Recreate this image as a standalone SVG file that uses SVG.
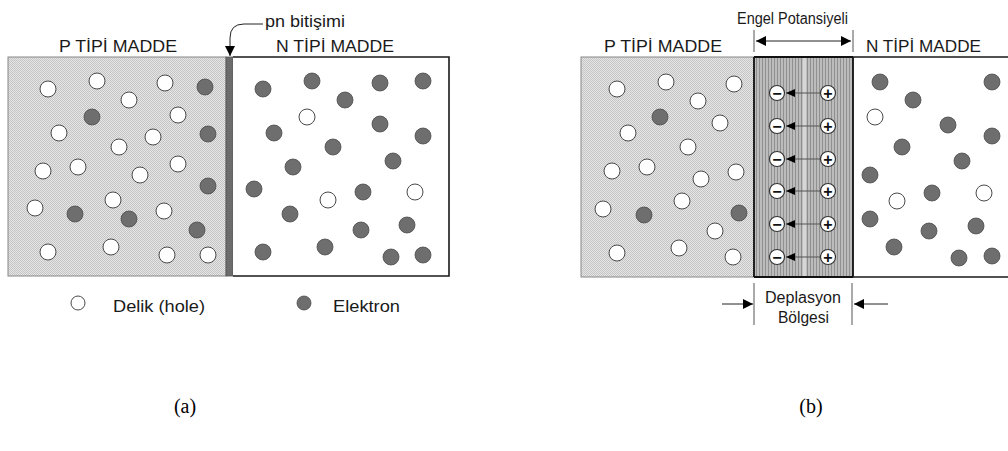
<svg xmlns="http://www.w3.org/2000/svg" width="1008" height="451" viewBox="0 0 1008 451">
<defs>
<style>
.t{font-family:"Liberation Sans",Arial,sans-serif;font-size:17px;fill:#1a1a1a}
.m{font-family:"Liberation Sans",Arial,sans-serif;font-size:16px;fill:#1a1a1a}
.s{font-family:"Liberation Serif","Times New Roman",serif;font-size:20px;fill:#000}
.h{fill:#fff;stroke:#4a4a4a;stroke-width:1}
.e{fill:#6e6e6e;stroke:#4a4a4a;stroke-width:0.8}
.q{fill:#fff;stroke:#333;stroke-width:1.2}
.sg{font-family:"Liberation Sans",Arial,sans-serif;font-size:16px;font-weight:bold;fill:#111;text-anchor:middle}
.ln{stroke:#222;stroke-width:1;fill:none}
.fl{stroke:#555;stroke-width:1;fill:none}
</style>
<pattern id="stip" width="2" height="2" patternUnits="userSpaceOnUse">
<rect width="2" height="2" fill="#e6e6e6"/>
<rect width="1" height="1" fill="#c4c4c4"/>
<rect x="1" y="1" width="1" height="1" fill="#c4c4c4"/>
</pattern>
<pattern id="vs" width="3" height="3" patternUnits="userSpaceOnUse">
<rect width="3" height="3" fill="#bcbcbc"/>
<rect width="1" height="3" fill="#909090"/>
</pattern>
<marker id="ah" viewBox="0 0 10 10" refX="10" refY="5" markerWidth="11" markerHeight="10" markerUnits="userSpaceOnUse" orient="auto">
<path d="M0,0 L10,5 L0,10 z" fill="#000"/>
</marker>
<marker id="ahb" viewBox="0 0 10 10" refX="0" refY="5" markerWidth="11" markerHeight="10" markerUnits="userSpaceOnUse" orient="auto">
<path d="M10,0 L0,5 L10,10 z" fill="#000"/>
</marker>
</defs>
<rect width="1008" height="451" fill="#fff"/>

<!-- Panel (a) P region -->
<g id="a-p-region">
<rect x="8" y="57" width="218" height="219" fill="url(#stip)" stroke="#888" stroke-width="1"/>
<text class="t" x="59" y="52" textLength="118" lengthAdjust="spacingAndGlyphs">P TİPİ MADDE</text>
<circle class="h" cx="48" cy="89" r="8"/><circle class="h" cx="97" cy="81" r="8"/><circle class="h" cx="165" cy="83" r="8"/><circle class="e" cx="205" cy="87" r="8"/>
<circle class="h" cx="129" cy="100" r="8"/><circle class="e" cx="92" cy="117" r="8"/><circle class="h" cx="178" cy="115" r="8"/><circle class="h" cx="59" cy="133" r="8"/>
<circle class="h" cx="153" cy="137" r="8"/><circle class="e" cx="208" cy="134" r="8"/><circle class="h" cx="119" cy="147" r="8"/><circle class="h" cx="43" cy="171" r="8"/>
<circle class="h" cx="78" cy="167" r="8"/><circle class="h" cx="140" cy="175" r="8"/><circle class="h" cx="178" cy="164" r="8"/><circle class="e" cx="208" cy="186" r="8"/>
<circle class="h" cx="113" cy="200" r="8"/><circle class="h" cx="35" cy="208" r="8"/><circle class="e" cx="75" cy="214" r="8"/><circle class="e" cx="129" cy="219" r="8"/>
<circle class="h" cx="164" cy="211" r="8"/><circle class="e" cx="197" cy="230" r="8"/><circle class="h" cx="48" cy="252" r="8"/><circle class="h" cx="111" cy="247" r="8"/>
<circle class="h" cx="167" cy="255" r="8"/><circle class="h" cx="208" cy="255" r="8"/>
</g>

<!-- Junction -->
<g id="a-junction">
<rect x="226" y="57" width="7" height="219" fill="#6c6c6c" stroke="#555" stroke-width="0.8"/>
<text class="t" x="265" y="27" textLength="80" lengthAdjust="spacingAndGlyphs">pn bitişimi</text>
</g>

<!-- Panel (a) N region -->
<g id="a-n-region">
<path d="M233,57 H449 V276 H233" fill="#fff" stroke="#1a1a1a" stroke-width="1.6"/>
<text class="t" x="276" y="52" textLength="118" lengthAdjust="spacingAndGlyphs">N TİPİ MADDE</text>
<circle class="e" cx="263" cy="89" r="8"/><circle class="e" cx="312" cy="81" r="8"/><circle class="e" cx="380" cy="83" r="8"/><circle class="e" cx="423" cy="81" r="8"/>
<circle class="e" cx="345" cy="100" r="8"/><circle class="h" cx="307" cy="117" r="8"/><circle class="e" cx="274" cy="133" r="8"/><circle class="e" cx="380" cy="124" r="8"/>
<circle class="e" cx="423" cy="136" r="8"/><circle class="e" cx="333" cy="147" r="8"/><circle class="e" cx="293" cy="167" r="8"/><circle class="e" cx="393" cy="161" r="8"/>
<circle class="e" cx="254" cy="189" r="8"/><circle class="h" cx="328" cy="200" r="8"/><circle class="e" cx="363" cy="192" r="8"/><circle class="h" cx="415" cy="192" r="8"/>
<circle class="e" cx="290" cy="214" r="8"/><circle class="e" cx="361" cy="230" r="8"/><circle class="e" cx="407" cy="225" r="8"/><circle class="e" cx="263" cy="252" r="8"/>
<circle class="e" cx="325" cy="247" r="8"/><circle class="e" cx="391" cy="257" r="8"/><circle class="e" cx="423" cy="255" r="8"/>
</g>

<!-- Legend -->
<g id="legend">
<circle class="h" cx="78" cy="303" r="7"/>
<text class="t" x="113" y="312" textLength="92" lengthAdjust="spacingAndGlyphs">Delik (hole)</text>
<circle class="e" cx="304" cy="303" r="7"/>
<text class="t" x="333" y="312" textLength="67" lengthAdjust="spacingAndGlyphs">Elektron</text>
</g>

<!-- Panel (b) P region -->
<g id="b-p-region">
<rect x="581" y="57" width="173" height="220" fill="url(#stip)" stroke="#888" stroke-width="1"/>
<text class="t" x="604" y="52" textLength="118" lengthAdjust="spacingAndGlyphs">P TİPİ MADDE</text>
<circle class="h" cx="617" cy="89" r="8"/><circle class="h" cx="666" cy="82" r="8"/><circle class="h" cx="734" cy="84" r="8"/><circle class="h" cx="698" cy="101" r="8"/>
<circle class="e" cx="660" cy="117" r="8"/><circle class="h" cx="720" cy="123" r="8"/><circle class="h" cx="628" cy="133" r="8"/><circle class="h" cx="688" cy="147" r="8"/>
<circle class="h" cx="612" cy="171" r="8"/><circle class="h" cx="647" cy="167" r="8"/><circle class="h" cx="701" cy="179" r="8"/><circle class="h" cx="736" cy="172" r="8"/>
<circle class="h" cx="682" cy="201" r="8"/><circle class="h" cx="603" cy="209" r="8"/><circle class="e" cx="644" cy="215" r="8"/><circle class="e" cx="739" cy="213" r="8"/>
<circle class="h" cx="715" cy="231" r="8"/><circle class="h" cx="617" cy="253" r="8"/><circle class="h" cx="679" cy="248" r="8"/><circle class="h" cx="733" cy="257" r="8"/>
</g>

<!-- Depletion region -->
<g id="b-depletion">
<rect x="754" y="57" width="99" height="220" fill="url(#vs)"/>
<rect x="802" y="57" width="5" height="220" fill="#d6d6d6" stroke="#888" stroke-width="0.6"/>
<path d="M754,57 V277 M853,57 V277 M754,277 H853 M754,57 H853" stroke="#111" stroke-width="1.8" fill="none"/>
<g id="charges">
<circle class="q" cx="777" cy="93" r="7.5"/><circle class="q" cx="828" cy="93" r="7.5"/>
<circle class="q" cx="777" cy="126" r="7.5"/><circle class="q" cx="828" cy="126" r="7.5"/>
<circle class="q" cx="777" cy="159" r="7.5"/><circle class="q" cx="828" cy="159" r="7.5"/>
<circle class="q" cx="777" cy="191" r="7.5"/><circle class="q" cx="828" cy="191" r="7.5"/>
<circle class="q" cx="777" cy="224" r="7.5"/><circle class="q" cx="828" cy="224" r="7.5"/>
<circle class="q" cx="777" cy="257" r="7.5"/><circle class="q" cx="828" cy="257" r="7.5"/>
<text class="sg" x="777" y="98.5">−</text><text class="sg" x="828" y="98.5">+</text>
<text class="sg" x="777" y="131.5">−</text><text class="sg" x="828" y="131.5">+</text>
<text class="sg" x="777" y="164.5">−</text><text class="sg" x="828" y="164.5">+</text>
<text class="sg" x="777" y="196.5">−</text><text class="sg" x="828" y="196.5">+</text>
<text class="sg" x="777" y="229.5">−</text><text class="sg" x="828" y="229.5">+</text>
<text class="sg" x="777" y="262.5">−</text><text class="sg" x="828" y="262.5">+</text>
</g>
<text class="m" x="737" y="24" textLength="111" lengthAdjust="spacingAndGlyphs">Engel Potansiyeli</text>
<text class="m" x="765" y="303" textLength="76" lengthAdjust="spacingAndGlyphs">Deplasyon</text>
<text class="m" x="778" y="323" textLength="51" lengthAdjust="spacingAndGlyphs">Bölgesi</text>
</g>

<!-- Panel (b) N region -->
<g id="b-n-region">
<path d="M853,57 H1008 M853,277 H1008" stroke="#1a1a1a" stroke-width="1.6" fill="none"/>
<text class="t" x="866" y="52" textLength="115" lengthAdjust="spacingAndGlyphs">N TİPİ MADDE</text>
<circle class="e" cx="880" cy="82" r="8"/><circle class="e" cx="992" cy="82" r="8"/><circle class="e" cx="913" cy="100" r="8"/><circle class="h" cx="875" cy="117" r="8"/>
<circle class="e" cx="948" cy="125" r="8"/><circle class="e" cx="992" cy="136" r="8"/><circle class="e" cx="902" cy="147" r="8"/><circle class="e" cx="962" cy="161" r="8"/>
<circle class="e" cx="870" cy="175" r="8"/><circle class="h" cx="897" cy="201" r="8"/><circle class="e" cx="932" cy="193" r="8"/><circle class="h" cx="984" cy="193" r="8"/>
<circle class="e" cx="870" cy="219" r="8"/><circle class="e" cx="929" cy="231" r="8"/><circle class="e" cx="976" cy="226" r="8"/><circle class="e" cx="894" cy="247" r="8"/>
<circle class="e" cx="959" cy="258" r="8"/><circle class="e" cx="992" cy="256" r="8"/>
</g>

<!-- Captions -->
<g id="captions">
<text class="s" x="185" y="413" text-anchor="middle">(a)</text>
<text class="s" x="811" y="413" text-anchor="middle">(b)</text>
</g>

<!-- Connectors -->
<g id="connectors">
<path class="ln" d="M263,24 H244 Q230,24 230,38 V56" marker-end="url(#ah)"/>
<path class="fl" d="M754,30 V52 M853,30 V52"/>
<path class="ln" d="M756,41 H851" marker-start="url(#ahb)" marker-end="url(#ah)"/>
<path class="fl" d="M820,93 H786 M820,126 H786 M820,159 H786 M820,191 H786 M820,224 H786 M820,257 H786"/>
<path d="M795,89 L786,93 L795,97 z M795,122 L786,126 L795,130 z M795,155 L786,159 L795,163 z M795,187 L786,191 L795,195 z M795,220 L786,224 L795,228 z M795,253 L786,257 L795,261 z" fill="#000"/>
<path class="fl" d="M754,283 V325 M852,283 V325"/>
<path class="ln" d="M722,304 H753" marker-end="url(#ah)"/>
<path class="ln" d="M888,304 H854" marker-end="url(#ah)"/>
</g>
</svg>
